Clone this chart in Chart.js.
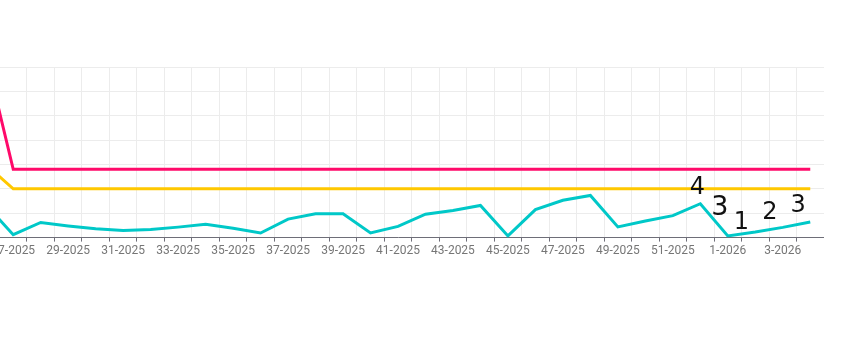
<!DOCTYPE html>
<html>
<head>
<meta charset="utf-8">
<script src="https://cdn.jsdelivr.net/npm/chart.js@4/dist/chart.umd.min.js"></script>
<style>
  html, body { margin: 0; padding: 0; background: #fff; overflow: hidden; }
  body { width: 861px; height: 345px; position: relative; }
  #wrap { position: absolute; left: -28px; top: 0; width: 852px; height: 345px; }
</style>
</head>
<body>
<div id="wrap"><canvas id="chart"></canvas></div>
<script>
// week labels (chart is cropped on the left, first one is off-screen)
const weeks = [
  "26-2025", "27-2025", "28-2025", "29-2025", "30-2025", "31-2025", "32-2025",
  "33-2025", "34-2025", "35-2025", "36-2025", "37-2025", "38-2025", "39-2025",
  "40-2025", "41-2025", "42-2025", "43-2025", "44-2025", "45-2025", "46-2025",
  "47-2025", "48-2025", "49-2025", "50-2025", "51-2025", "52-2025",
  "1-2026", "2-2026", "3-2026", "4-2026"
];

const upperLine = [75, 28, 28, 28, 28, 28, 28, 28, 28, 28, 28, 28, 28, 28, 28, 28,
  28, 28, 28, 28, 28, 28, 28, 28, 28, 28, 28, 28, 28, 28, 28];
const targetLine = [30, 20, 20, 20, 20, 20, 20, 20, 20, 20, 20, 20, 20, 20, 20, 20,
  20, 20, 20, 20, 20, 20, 20, 20, 20, 20, 20, 20, 20, 20, 20];
const actual = [13.6, 1.2, 6.2, 4.8, 3.6, 2.9, 3.3, 4.3, 5.5, 3.8, 1.9, 7.6, 9.8, 9.8,
  1.9, 4.6, 9.6, 11.1, 13.2, 0.7, 11.5, 15.3, 17.3, 4.4, 6.8, 9.0, 13.9,
  0.7, 2.3, 4.2, 6.4];

// hand-written notes over the last five weeks
const notes = ["4", "3", "1", "2", "3"];

const notesPlugin = {
  id: "notes",
  afterDatasetsDraw(chart) {
    const { ctx, scales: { x, y } } = chart;
    const first = weeks.length - notes.length;
    const place = [[-3, 20.5], [-8, 12.2], [-14, 5.9], [-13, 10.1], [-12, 13.0]];
    ctx.save();
    ctx.fillStyle = "#111";
    ctx.textAlign = "center";
    ctx.textBaseline = "middle";
    notes.forEach((t, i) => {
      const [dx, v] = place[i];
      ctx.font = (i === 1 ? "27px" : "24px") + " 'DejaVu Sans'";
      ctx.fillText(t, x.getPixelForValue(first + i) + dx, y.getPixelForValue(v));
    });
    ctx.restore();
  }
};

const line = (data, color) => ({
  data: data,
  borderColor: color,
  borderWidth: 3,
  pointRadius: 0,
  tension: 0,
  fill: false
});

new Chart(document.getElementById("chart"), {
  type: "line",
  data: {
    labels: weeks,
    datasets: [
      line(upperLine, "#ff0a6a"),
      line(targetLine, "#ffc800"),
      line(actual, "#00c8c8")
    ]
  },
  options: {
    responsive: true,
    maintainAspectRatio: false,
    animation: false,
    layout: { padding: { top: 67, bottom: 85, left: 0, right: 0 } },
    plugins: { legend: { display: false }, tooltip: { enabled: false } },
    scales: {
      x: {
        offset: true,
        grid: { offset: true, color: "#ececec", tickColor: "#6e6e78", tickLength: 4 },
        border: { color: "#6e6e78" },
        ticks: {
          autoSkip: false,
          maxRotation: 0,
          minRotation: 0,
          padding: 2,
          color: "#767676",
          font: { family: "Roboto", size: 12 },
          callback: (v, i) => (i % 2 === 1 ? weeks[i] : "")
        }
      },
      y: {
        min: 0,
        max: 70,
        ticks: { display: false, stepSize: 10 },
        grid: { color: "#ececec", drawTicks: false },
        border: { display: false }
      }
    }
  },
  plugins: [notesPlugin]
});
</script>
</body>
</html>
